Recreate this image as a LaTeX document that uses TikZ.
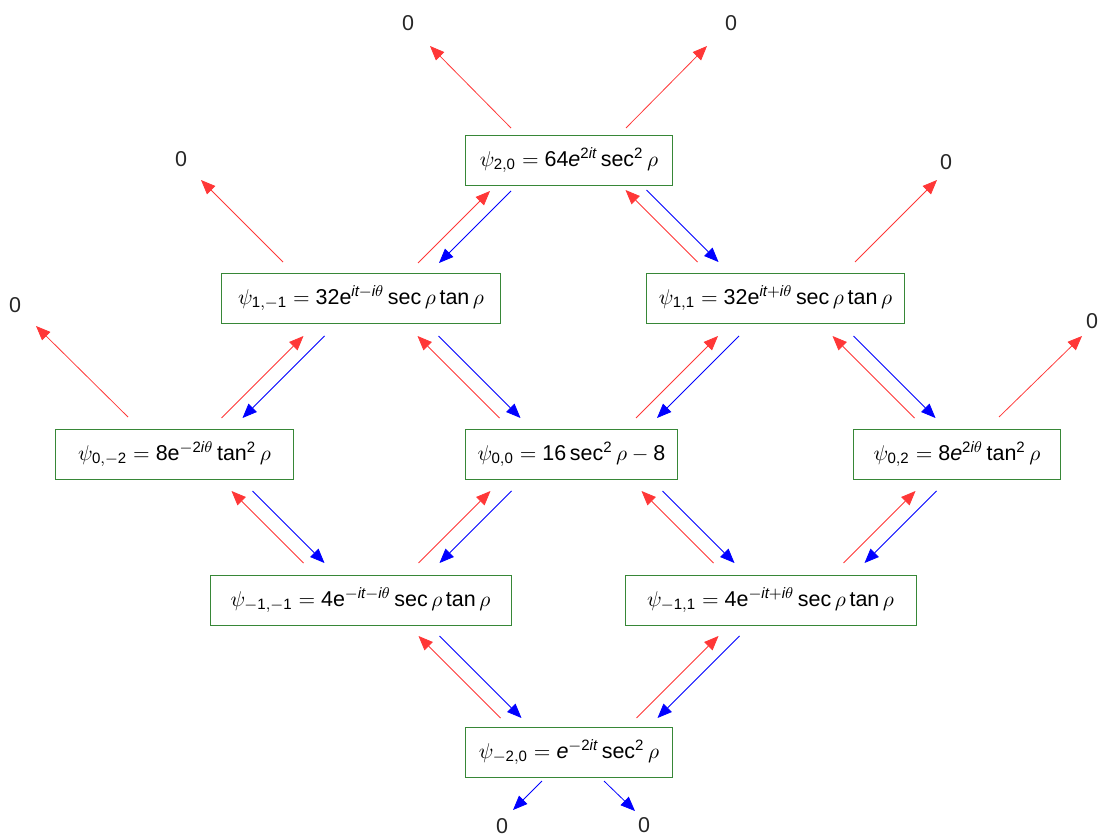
\documentclass[tikz,border=0pt]{standalone}
\usepackage{fontspec}
\setmainfont{Liberation Sans}
\DeclareSymbolFont{sfdigits}{TU}{\familydefault}{m}{n}
\AtBeginDocument{%
  \DeclareMathSymbol{0}{\mathalpha}{sfdigits}{`0}%
  \DeclareMathSymbol{1}{\mathalpha}{sfdigits}{`1}%
  \DeclareMathSymbol{2}{\mathalpha}{sfdigits}{`2}%
  \DeclareMathSymbol{3}{\mathalpha}{sfdigits}{`3}%
  \DeclareMathSymbol{4}{\mathalpha}{sfdigits}{`4}%
  \DeclareMathSymbol{5}{\mathalpha}{sfdigits}{`5}%
  \DeclareMathSymbol{6}{\mathalpha}{sfdigits}{`6}%
  \DeclareMathSymbol{7}{\mathalpha}{sfdigits}{`7}%
  \DeclareMathSymbol{8}{\mathalpha}{sfdigits}{`8}%
  \DeclareMathSymbol{9}{\mathalpha}{sfdigits}{`9}%
}
\usetikzlibrary{arrows.meta,calc}
\definecolor{opred}{RGB}{255,55,55}
\definecolor{opblue}{RGB}{0,0,255}
\definecolor{boxgreen}{RGB}{55,135,55}
\tikzset{
  state/.style={draw=boxgreen, line width=0.5pt, minimum height=0.9cm, inner xsep=2pt},
  raising/.style={opred, -{Triangle[length=2.6mm,width=2.1mm]}},
  lowering/.style={opblue, -{Triangle[length=2.6mm,width=2.1mm]}},
  zero/.style={inner sep=1pt, text=black!85}
}
\begin{document}
\begin{tikzpicture}[x=0.018cm, y=-0.018cm, font=\fontsize{11}{13}\selectfont]
  \useasboundingbox (0,0) rectangle (1099,837);
  %States
  \node[state, minimum width=3.74cm] (p20) at (569,160) {$\psi_{2,0} = 64\mathit{e}^{2\mathit{it}}\sec^2\rho$};
  \node[state, minimum width=5.04cm] (p1m1) at (361,298.5) {$\psi_{1,-1} = 32\mathrm{e}^{\mathit{it}-\mathit{i}\theta}\sec\rho\tan\rho$};
  \node[state, minimum width=4.66cm] (p11) at (775.5,298.5) {$\psi_{1,1} = 32\mathrm{e}^{\mathit{it}+\mathit{i}\theta}\sec\rho\tan\rho$};
  \node[state, minimum width=4.27cm] (p0m2) at (174.5,454) {$\psi_{0,-2} = 8\mathrm{e}^{-2\mathit{i}\theta}\tan^2\rho$};
  \node[state, minimum width=3.83cm] (p00) at (571.5,454) {$\psi_{0,0} = 16\sec^2\rho - 8$};
  \node[state, minimum width=3.74cm] (p02) at (957,454) {$\psi_{0,2} = 8\mathit{e}^{2\mathit{i}\theta}\tan^2\rho$};
  \node[state, minimum width=5.42cm] (pm1m1) at (360.5,600) {$\psi_{-1,-1} = 4\mathrm{e}^{-\mathit{it}-\mathit{i}\theta}\sec\rho\tan\rho$};
  \node[state, minimum width=5.24cm] (pm11) at (770.5,600) {$\psi_{-1,1} = 4\mathrm{e}^{-\mathit{it}+\mathit{i}\theta}\sec\rho\tan\rho$};
  \node[state, minimum width=3.74cm] (pm20) at (569,752) {$\psi_{-2,0} = \mathit{e}^{-2\mathit{it}}\sec^2\rho$};
  %Zeros
  \node[zero] (z1) at (408,23) {0};
  \node[zero] (z2) at (731,23) {0};
  \node[zero] (z3) at (181,159) {0};
  \node[zero] (z4) at (946,162) {0};
  \node[zero] (z5) at (15,305) {0};
  \node[zero] (z6) at (1092,321) {0};
  \node[zero] (z7) at (502,826) {0};
  \node[zero] (z8) at (644,825) {0};
  %Centres of the arrow pairs
  \coordinate (l1) at (464.5,227);  % p1m1 -- p20
  \coordinate (r1) at (672,226);    % p20 -- p11
  \coordinate (l2) at (273,377);    % p0m2 -- p1m1
  \coordinate (c2) at (469,377);    % p1m1 -- p00
  \coordinate (d2) at (687.5,377);  % p00 -- p11
  \coordinate (r2) at (884,377);    % p11 -- p02
  \coordinate (l3) at (278,527);    % p0m2 -- pm1m1
  \coordinate (c3) at (465,527);    % pm1m1 -- p00
  \coordinate (d3) at (688,527);    % p00 -- pm11
  \coordinate (r3) at (890,527);    % pm11 -- p02
  \coordinate (l4) at (470,677);    % pm1m1 -- pm20
  \coordinate (r4) at (688,677);    % pm20 -- pm11
  %Top row
  \draw[raising] ($(l1)+(-46.5,36)$) -- ($(l1)+(25.5,-36)$);
  \draw[lowering] ($(l1)+(46.5,-36)$) -- ($(l1)+(-25.5,36)$);
  \draw[raising] ($(r1)+(25.5,36)$) -- ($(r1)+(-46.5,-36)$);
  \draw[lowering] ($(r1)+(-25.5,-36)$) -- ($(r1)+(46.5,36)$);
  %Second row
  \draw[raising] ($(l2)+(-51.5,41)$) -- ($(l2)+(30.5,-41)$);
  \draw[lowering] ($(l2)+(51.5,-41)$) -- ($(l2)+(-30.5,41)$);
  \draw[raising] ($(c2)+(30.5,41)$) -- ($(c2)+(-51.5,-41)$);
  \draw[lowering] ($(c2)+(-30.5,-41)$) -- ($(c2)+(51.5,41)$);
  \draw[raising] ($(d2)+(-51.5,41)$) -- ($(d2)+(30.5,-41)$);
  \draw[lowering] ($(d2)+(51.5,-41)$) -- ($(d2)+(-30.5,41)$);
  \draw[raising] ($(r2)+(30.5,41)$) -- ($(r2)+(-51.5,-41)$);
  \draw[lowering] ($(r2)+(-30.5,-41)$) -- ($(r2)+(51.5,41)$);
  %Third row
  \draw[raising] ($(l3)+(25.5,36)$) -- ($(l3)+(-46.5,-36)$);
  \draw[lowering] ($(l3)+(-25.5,-36)$) -- ($(l3)+(46.5,36)$);
  \draw[raising] ($(c3)+(-46.5,36)$) -- ($(c3)+(25.5,-36)$);
  \draw[lowering] ($(c3)+(46.5,-36)$) -- ($(c3)+(-25.5,36)$);
  \draw[raising] ($(d3)+(25.5,36)$) -- ($(d3)+(-46.5,-36)$);
  \draw[lowering] ($(d3)+(-25.5,-36)$) -- ($(d3)+(46.5,36)$);
  \draw[raising] ($(r3)+(-46.5,36)$) -- ($(r3)+(25.5,-36)$);
  \draw[lowering] ($(r3)+(46.5,-36)$) -- ($(r3)+(-25.5,36)$);
  %Bottom row
  \draw[raising] ($(l4)+(30.5,41)$) -- ($(l4)+(-51.5,-41)$);
  \draw[lowering] ($(l4)+(-30.5,-41)$) -- ($(l4)+(51.5,41)$);
  \draw[raising] ($(r4)+(-51.5,41)$) -- ($(r4)+(30.5,-41)$);
  \draw[lowering] ($(r4)+(51.5,-41)$) -- ($(r4)+(-30.5,41)$);
  %Arrows to zero
  \draw[raising] ($(p20)+(-58,-32)$) -- ($(p20)+(-139,-114)$);
  \draw[raising] ($(p20)+(57,-32)$) -- ($(p20)+(138,-114)$);
  \draw[raising] ($(p1m1)+(-78,-36.5)$) -- ($(p1m1)+(-160,-118.5)$);
  \draw[raising] ($(p11)+(79.5,-36.5)$) -- ($(p11)+(161.5,-118.5)$);
  \draw[raising] ($(p0m2)+(-46.5,-37)$) -- ($(p0m2)+(-138.5,-128)$);
  \draw[raising] ($(p02)+(42,-37)$) -- ($(p02)+(125,-118)$);
  \draw[lowering] ($(pm20)+(-27,29)$) -- ($(pm20)+(-56,58)$);
  \draw[lowering] ($(pm20)+(35,29)$) -- ($(pm20)+(66,59)$);
\end{tikzpicture}
\end{document}
